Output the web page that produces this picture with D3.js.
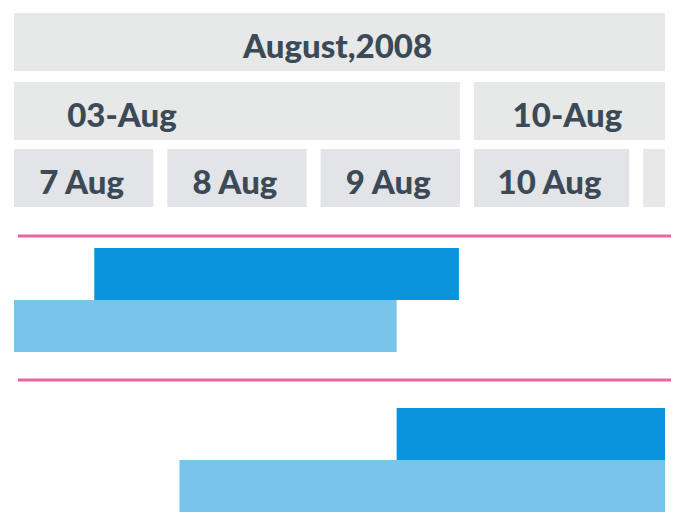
<!DOCTYPE html>
<html><head><meta charset="utf-8">
<script src="https://cdn.jsdelivr.net/npm/d3@7"></script>
<style>html,body{margin:0;padding:0;background:#fff;} svg{display:block;}</style>
</head><body>
<script>
// ---- data ----
const months = [{label: "August,2008", start: "2008-08-01 00:00", end: "2008-09-01 00:00"}];
const weeks = [
  {label: "03-Aug", start: "2008-08-03 00:00", end: "2008-08-10 00:00"},
  {label: "10-Aug", start: "2008-08-10 00:00", end: "2008-08-17 00:00"}
];
const days = [
  {label: "7 Aug", start: "2008-08-07 00:00", end: "2008-08-08 00:00"},
  {label: "8 Aug", start: "2008-08-08 00:00", end: "2008-08-09 00:00"},
  {label: "9 Aug", start: "2008-08-09 00:00", end: "2008-08-10 00:00"},
  {label: "10 Aug", start: "2008-08-10 00:00", end: "2008-08-11 02:30"},
  {label: "11 Aug", start: "2008-08-11 02:30", end: "2008-08-12 12:00"}
];
const tasks = ["Task 1", "Task 2"];
const actual = [
  {task: "Task 1", start: "2008-08-07 13:40", end: "2008-08-09 22:45"},
  {task: "Task 2", start: "2008-08-09 13:00", end: "2008-08-12 12:00"}
];
const planned = [
  {task: "Task 1", start: "2008-08-06 12:00", end: "2008-08-09 13:00"},
  {task: "Task 2", start: "2008-08-08 03:00", end: "2008-08-12 12:00"}
];

// ---- layout ----
const W = 684, H = 530;
const parse = d3.timeParse("%Y-%m-%d %H:%M");
const viewL = 14, viewR = 665;
const pad = 7;
const x = d3.scaleTime()
  .domain([parse("2008-08-07 00:00"), parse("2008-08-11 00:00")])
  .range([7, 620.2]);
const y = d3.scaleBand().domain(tasks).range([220, 540]);
const barH = 52;

const svg = d3.select("body").append("svg").attr("width", W).attr("height", H);
svg.append("defs").append("clipPath").attr("id", "view")
  .append("rect").attr("x", viewL).attr("y", 0).attr("width", viewR - viewL).attr("height", H);

const font = "Lato, 'Open Sans', sans-serif";
const textColor = "#3b4a56";

const headerRows = [
  {data: months, top: 13, h: 58, fill: "#e7e8e8", mode: "visible"},
  {data: weeks, top: 82, h: 58, fill: "#e7e8e8", mode: "visible"},
  {data: days, top: 149, h: 58, fill: (d, i) => i < 4 ? "#e2e4e7" : "#e7e8e8", mode: "full"}
];

const hdr = svg.append("g").attr("clip-path", "url(#view)");
headerRows.forEach(row => {
  const g = hdr.append("g");
  g.selectAll("rect").data(row.data).join("rect")
    .attr("x", d => x(parse(d.start)) + pad)
    .attr("y", row.top)
    .attr("width", d => x(parse(d.end)) - x(parse(d.start)) - 2 * pad)
    .attr("height", row.h)
    .attr("fill", row.fill);
});

// labels
function labelX(d, row, ri) {
  const s = x(parse(d.start)) + pad, e = x(parse(d.end)) - pad;
  if (row.mode === "full") return (s + e) / 2 - 2;
  const a = Math.max(s, viewL), b = Math.min(e, viewR);
  if (ri === 1 && s < viewL) return a + 108; // clipped week label
  return (a + b) / 2 - 2;
}
headerRows.forEach((row, ri) => {
  const t = hdr.append("g").selectAll("text").data(row.data).join("text")
    .attr("x", d => labelX(d, row, ri))
    .attr("y", row.top + 45)
    .attr("text-anchor", "middle")
    .attr("font-family", font)
    .attr("font-weight", 900)
    .attr("font-size", 33)
    .attr("fill", textColor)
    .text(d => d.label);
  // labels whose centre lies outside the visible window are not shown
  t.filter(function() {
    const b = this.getBBox();
    return b.x + b.width / 2 > viewR || b.x + b.width / 2 < viewL;
  }).remove();
});

// separators
const sepY = [236, 380];
svg.append("g").selectAll("line").data(sepY).join("line")
  .attr("x1", 18).attr("x2", 671)
  .attr("y1", d => d).attr("y2", d => d)
  .attr("stroke", "#ec64a8").attr("stroke-width", 3);

// bars
const bars = svg.append("g").attr("clip-path", "url(#view)");
const mid = t => y(t) + y.bandwidth() / 2;
bars.selectAll("rect.planned").data(planned).join("rect").attr("class", "planned")
  .attr("x", d => x(parse(d.start)))
  .attr("y", d => mid(d.task))
  .attr("width", d => x(parse(d.end)) - x(parse(d.start)))
  .attr("height", barH)
  .attr("fill", "#78c4eb");
bars.selectAll("rect.actual").data(actual).join("rect").attr("class", "actual")
  .attr("x", d => x(parse(d.start)))
  .attr("y", d => mid(d.task) - barH)
  .attr("width", d => x(parse(d.end)) - x(parse(d.start)))
  .attr("height", barH)
  .attr("fill", "#0b94dd");
</script>
</body></html>
